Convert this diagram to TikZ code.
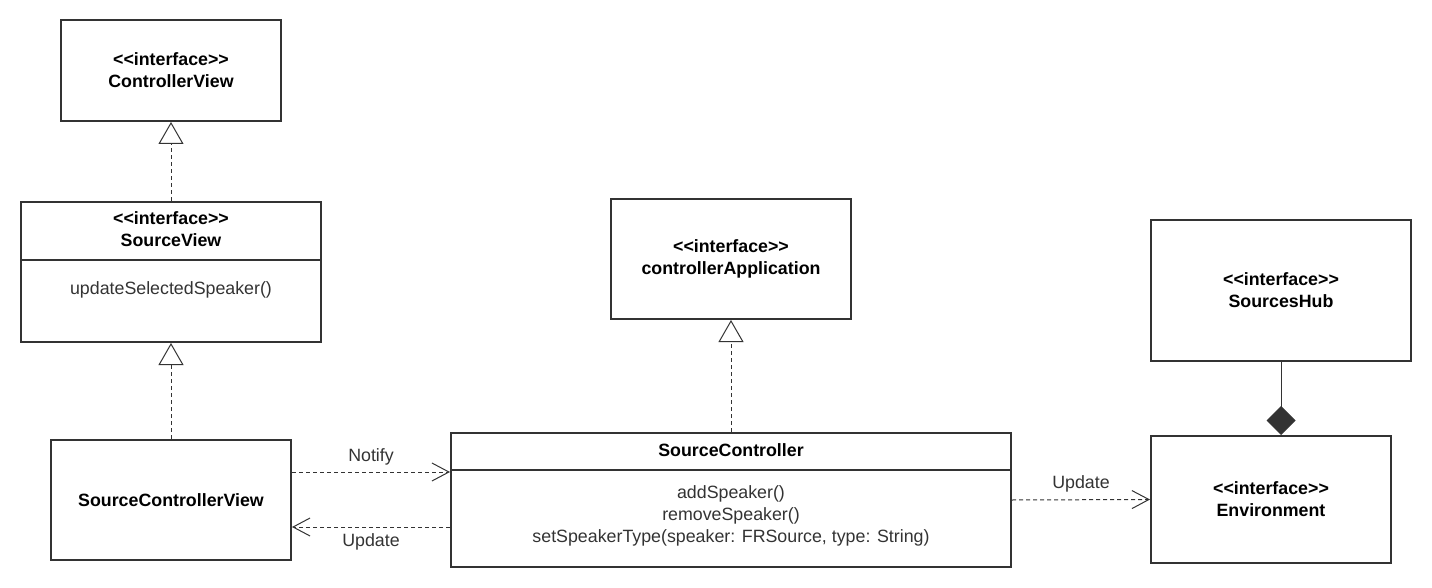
\documentclass[tikz,border=0pt]{standalone}
\usepackage{fontspec}
\setmainfont{Liberation Sans}
\usetikzlibrary{arrows.meta}
\definecolor{umlgray}{HTML}{333333}
\newcommand{\ifacetag}{<{}<interface>{}>}

\begin{document}
\begin{tikzpicture}[x=1pt, y=-1pt,
  every node/.style={font=\fontsize{17.8}{22}\selectfont, text=umlgray, align=center},
  classbox/.style={draw=umlgray, line width=2pt, inner sep=0pt, text=black, font=\fontsize{17.8}{22}\selectfont\bfseries},
  realizes/.style={umlgray, line width=1pt, dash pattern=on 4pt off 3pt,
    -{Triangle[width=25pt, length=22pt, fill=white]}},
  depends/.style={umlgray, line width=1pt, dash pattern=on 4pt off 3pt,
    -{Straight Barb[width=18pt, length=17pt]}},
  composes/.style={umlgray, line width=1pt, -{Diamond[width=29pt, length=29pt, fill=umlgray]}}]

  \useasboundingbox (0,0) rectangle (1432,588);

  % interfaces on the left
  \node[classbox, minimum width=220pt, minimum height=101pt] (cview) at (171,70.5)
    {\ifacetag\\ControllerView};
  \node[classbox, minimum width=300pt, minimum height=140pt] (sview) at (171,272) {};
  \node[text=black, font=\fontsize{17.8}{22}\selectfont\bfseries] (sviewname) at (171,229)
    {\ifacetag\\SourceView};
  \draw[umlgray, line width=2pt] ([yshift=-59pt]sview.north west) -- ([yshift=-59pt]sview.north east);
  \node (sviewops) at (171,290) {updateSelectedSpeaker()};
  \node[classbox, minimum width=240pt, minimum height=120pt] (scview) at (171,500)
    {SourceControllerView};

  % controller in the middle
  \node[classbox, minimum width=240pt, minimum height=120pt] (capp) at (731,259)
    {\ifacetag\\controllerApplication};
  \node[classbox, minimum width=560pt, minimum height=134pt] (sctrl) at (731,500) {};
  \node[text=black, font=\fontsize{17.8}{22}\selectfont\bfseries] (sctrlname) at (731,450)
    {SourceController};
  \draw[umlgray, line width=2pt] ([yshift=-38pt]sctrl.north west) -- ([yshift=-38pt]sctrl.north east);
  \node (sctrlops) at (731,516)
    {addSpeaker()\\removeSpeaker()\\setSpeakerType(speaker: FRSource, type: String)};

  % hub and environment on the right
  \node[classbox, minimum width=260pt, minimum height=141pt] (hub) at (1281,290.5)
    {\ifacetag\\SourcesHub};
  \node[classbox, minimum width=240pt, minimum height=127pt] (env) at (1271,499.5)
    {\ifacetag\\Environment};

  % relations
  \draw[realizes] (sview.north) -- (cview.south);
  \draw[realizes] (scview.north) -- (sview.south);
  \draw[realizes] (sctrl.north) -- (capp.south);
  \draw[depends] ([yshift=28pt]scview.east) -- node[midway, yshift=15pt] {Notify} ([yshift=28pt]sctrl.west);
  \draw[depends] ([yshift=-27pt]sctrl.west) -- node[midway, yshift=-15pt] {Update} ([yshift=-27pt]scview.east);
  \draw[depends] (sctrl.east) -- node[midway, yshift=16pt] {Update} (env.west);
  \draw[composes] (hub.south) -- (hub.south |- env.north);

\end{tikzpicture}
\end{document}
